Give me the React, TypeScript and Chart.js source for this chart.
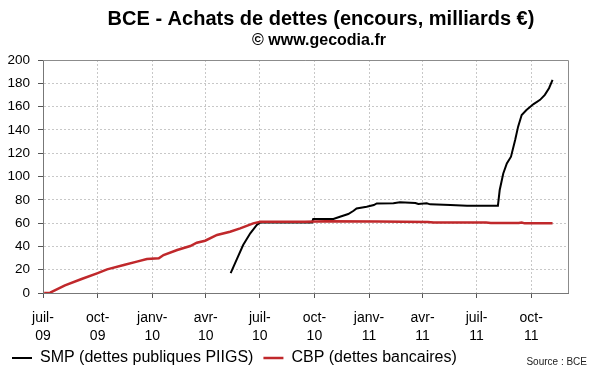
import React, { useEffect, useRef } from 'react';
import { Chart, registerables } from 'chart.js';

Chart.register(...registerables);

const FONT = "'Liberation Sans', Arial, sans-serif";

const axisStart = '2009-07-01';
const axisEnd = '2011-12-02';

const tickDates = [
  '2009-07-01', '2009-10-01', '2010-01-01', '2010-04-01', '2010-07-01',
  '2010-10-01', '2011-01-01', '2011-04-01', '2011-07-01', '2011-10-01',
];
const tickLabels = [
  ['juil-', '09'], ['oct-', '09'], ['janv-', '10'], ['avr-', '10'], ['juil-', '10'],
  ['oct-', '10'], ['janv-', '11'], ['avr-', '11'], ['juil-', '11'], ['oct-', '11'],
];

const smpLabel = 'SMP (dettes publiques PIIGS)';
const smpDates = [
  '2010-05-13', '2010-05-24', '2010-06-03', '2010-06-15', '2010-06-26', '2010-07-02',
  '2010-09-27', '2010-09-29', '2010-11-02', '2010-11-13', '2010-11-27', '2010-12-06',
  '2010-12-11', '2010-12-28', '2011-01-09', '2011-01-14', '2011-02-11', '2011-02-22',
  '2011-03-20', '2011-03-25', '2011-04-08', '2011-04-14', '2011-05-18', '2011-06-15',
  '2011-08-06', '2011-08-09', '2011-08-15', '2011-08-21', '2011-08-28', '2011-09-04',
  '2011-09-09', '2011-09-15', '2011-09-23', '2011-10-05', '2011-10-16', '2011-10-24',
  '2011-10-31', '2011-11-06',
];
const smpValues = [
  17, 29.7, 41.2, 51.2, 58.4, 60.5,
  60.6, 63.5, 63.5, 65.5, 67.8, 70.6,
  72.6, 74, 75.5, 76.9, 77, 77.8,
  77.3, 76.4, 77, 76.1, 75.5, 75,
  75, 88.4, 102.6, 111.2, 117, 131.3,
  142.8, 152.8, 157, 162.2, 165.8, 170.1,
  175.8, 183,
];

const cbpLabel = 'CBP (dettes bancaires)';
const cbpDates = [
  '2009-07-03', '2009-07-13', '2009-08-07', '2009-09-04', '2009-09-30', '2009-10-17',
  '2009-11-14', '2009-12-06', '2009-12-23', '2010-01-12', '2010-01-20', '2010-02-12',
  '2010-03-06', '2010-03-17', '2010-03-31', '2010-04-20', '2010-05-12', '2010-05-29',
  '2010-06-20', '2010-07-02', '2010-09-15', '2010-10-20', '2011-01-15', '2011-04-10',
  '2011-04-20', '2011-07-17', '2011-07-25', '2011-09-10', '2011-09-15', '2011-09-20',
  '2011-11-06',
];
const cbpValues = [
  0, 0.3, 6.5, 12, 16.9, 20.3,
  24, 26.9, 29.2, 29.8, 32.6, 36.9,
  40.3, 43.2, 44.9, 49.8, 52.6, 55.5,
  59.8, 61.2, 61.2, 61.6, 61.3, 61.0,
  60.6, 60.5, 60.1, 60.1, 60.5, 59.8,
  59.8,
];

const titleText = 'BCE - Achats de dettes (encours, milliards €)';
const subtitleText = '© www.gecodia.fr';
const sourceText = 'Source : BCE';

const DAY = 86400000;
const toDay = (s: string) => {
  const [y, m, d] = s.split('-').map(Number);
  const [y0, m0, d0] = axisStart.split('-').map(Number);
  return Math.round((Date.UTC(y, m - 1, d) - Date.UTC(y0, m0 - 1, d0)) / DAY);
};

const tickDays = tickDates.map(toDay);

const decor = {
  id: 'decor',
  beforeDatasetsDraw(chart: any) {
    const { ctx, chartArea: a } = chart;
    ctx.save();
    ctx.strokeStyle = '#8c8c8c';
    ctx.lineWidth = 1;
    ctx.beginPath();
    ctx.moveTo(a.left, Math.round(a.top) + 0.5);
    ctx.lineTo(Math.round(a.right) + 0.5, Math.round(a.top) + 0.5);
    ctx.lineTo(Math.round(a.right) + 0.5, a.bottom);
    ctx.stroke();
    ctx.restore();
  },
  afterDraw(chart: any) {
    const { ctx } = chart;
    ctx.save();
    ctx.fillStyle = '#000';
    ctx.textAlign = 'center';
    ctx.textBaseline = 'middle';
    ctx.font = `bold 20px ${FONT}`;
    ctx.fillText(titleText, 321, 19);
    ctx.font = `bold 16px ${FONT}`;
    ctx.fillText(subtitleText, 319, 41);
    ctx.font = `10px ${FONT}`;
    ctx.fillStyle = '#222';
    ctx.textAlign = 'right';
    ctx.fillText(sourceText, 587, 362);
    ctx.restore();
  },
};

export default function App() {
  const ref = useRef<HTMLCanvasElement | null>(null);

  useEffect(() => {
    document.body.style.margin = '0';
    if (!ref.current) return;
    const chart = new Chart(ref.current, {
      type: 'line',
      data: {
        datasets: [
          {
            label: smpLabel,
            data: smpDates.map((d, i) => ({ x: toDay(d), y: smpValues[i] })),
            borderColor: '#000000',
            backgroundColor: '#000000',
            borderWidth: 2,
            pointRadius: 0,
            tension: 0,
            order: 2,
          },
          {
            label: cbpLabel,
            data: cbpDates.map((d, i) => ({ x: toDay(d), y: cbpValues[i] })),
            borderColor: '#c0282b',
            backgroundColor: '#c0282b',
            borderWidth: 2.5,
            pointRadius: 0,
            tension: 0,
            order: 1,
          },
        ],
      },
      options: {
        animation: false,
        responsive: true,
        maintainAspectRatio: false,
        layout: { padding: { top: 60, right: 32, left: 2, bottom: -4 } },
        plugins: {
          title: { display: false },
          tooltip: { enabled: false },
          legend: {
            position: 'bottom',
            align: 'start',
            labels: {
              usePointStyle: true,
              pointStyle: 'line',
              pointStyleWidth: 20,
              padding: 10,
              color: '#000',
              font: { family: FONT, size: 16 },
              sort: (a: any, b: any) => a.datasetIndex - b.datasetIndex,
            },
          },
        },
        scales: {
          x: {
            type: 'linear',
            min: toDay(axisStart),
            max: toDay(axisEnd),
            afterBuildTicks: (scale: any) => {
              scale.ticks = tickDays.map((v) => ({ value: v }));
            },
            afterFit: (scale: any) => {
              scale.height = 47;
            },
            ticks: {
              autoSkip: false,
              maxRotation: 0,
              padding: 11,
              color: '#000',
              font: { family: FONT, size: 14, lineHeight: 1.3 },
              callback: (value: any) => {
                const i = tickDays.indexOf(Number(value));
                return i >= 0 ? tickLabels[i] : '';
              },
            },
            grid: {
              color: '#c8c8c8',
              lineWidth: 1,
              tickLength: 5,
              tickColor: '#555',
              tickWidth: 1,
            },
            border: { color: '#777', width: 1, dash: [2, 2] },
          },
          y: {
            min: 0,
            max: 200,
            afterFit: (scale: any) => {
              scale.width = 41;
            },
            ticks: {
              stepSize: 20,
              padding: 8,
              color: '#000',
              font: { family: FONT, size: 13.5 },
            },
            grid: {
              color: '#c8c8c8',
              lineWidth: 1,
              tickLength: 5,
              tickColor: '#555',
              tickWidth: 1,
            },
            border: { color: '#777', width: 1, dash: [2, 2] },
          },
        },
      },
      plugins: [decor],
    });
    return () => chart.destroy();
  }, []);

  return (
    <div style={{ position: 'relative', width: 600, height: 372 }}>
      <canvas ref={ref} />
    </div>
  );
}
